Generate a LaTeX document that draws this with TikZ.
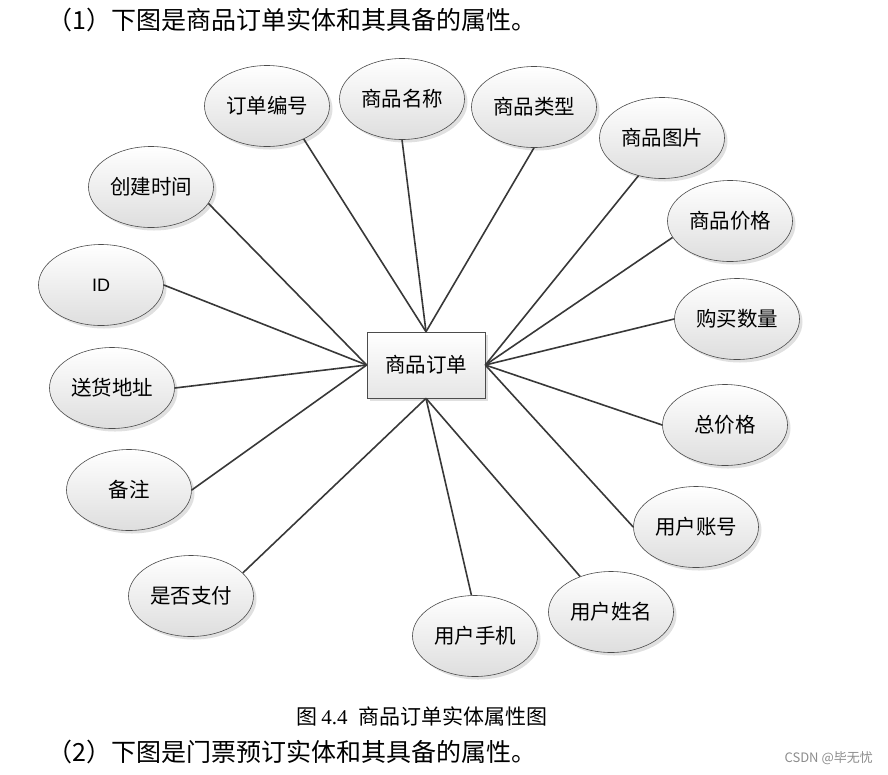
\documentclass[tikz,border=0pt]{standalone}
\usepackage{fontspec}
\setmainfont{Liberation Serif}
\newfontfamily\cjk{Noto Sans CJK SC}
\newfontfamily\arialf{Liberation Sans}
\usetikzlibrary{shapes.geometric,shadows}
\begin{document}
\begin{tikzpicture}[x=1pt,y=-1pt,
  attr/.style={ellipse,draw=black!70,line width=0.6pt,top color=white,bottom color=black!13,
    minimum width=125pt,minimum height=81pt,inner sep=0pt,font=\cjk\fontsize{20.5}{24}\selectfont,
    drop shadow={shadow xshift=3pt,shadow yshift=-3pt,opacity=0.3,fill=black!40}},
  ent/.style={rectangle,draw=black!70,line width=0.6pt,top color=white,bottom color=black!10,
    minimum width=118pt,minimum height=66pt,inner sep=0pt,font=\cjk\fontsize{20.5}{24}\selectfont,
    drop shadow={shadow xshift=3pt,shadow yshift=-3pt,opacity=0.3,fill=black!40}},
  link/.style={draw=black!78,line width=1.6pt},
  para/.style={anchor=west,inner sep=0pt,font=\cjk\fontsize{25}{28}\selectfont},
]
\useasboundingbox (0,0) rectangle (888,774);

\node[para] (title) at (47,20) {（1）下图是商品订单实体和其具备的属性。};

\node[ent] (o) at (426,365) {商品订单};

\node[attr] (a1) at (267,106) {订单编号};
\node[attr] (a2) at (402,99) {商品名称};
\node[attr] (a3) at (534,107) {商品类型};
\node[attr] (a4) at (662,138) {商品图片};
\node[attr] (a5) at (730,221) {商品价格};
\node[attr] (a6) at (737,319) {购买数量};
\node[attr] (a7) at (725,425) {总价格};
\node[attr] (a8) at (696,527) {用户账号};
\node[attr] (a9) at (611,612) {用户姓名};
\node[attr] (a10) at (475,636) {用户手机};
\node[attr] (a11) at (191,596) {是否支付};
\node[attr] (a12) at (129,490) {备注};
\node[attr] (a13) at (112,388) {送货地址};
\node[attr,font=\arialf\fontsize{18}{22}\selectfont] (a14) at (101,285) {ID};
\node[attr] (a15) at (151,187) {创建时间};

\draw[link] (a1.-42) -- (o.north);
\draw[link] (a2.south) -- (o.north);
\draw[link] (a3.south) -- (o.north);
\draw[link] (a4.-122) -- (o.east);
\draw[link] (a5.-164) -- (o.east);
\draw[link] (a6.west) -- (o.east);
\draw[link] (a7.west) -- (o.east);
\draw[link] (a8.west) -- (o.east);
\draw[link] (a9.131) -- (o.south);
\draw[link] (a10.95) -- (o.south);
\draw[link] (a11.24) -- (o.south);
\draw[link] (a12.east) -- (o.west);
\draw[link] (a13.east) -- (o.west);
\draw[link] (a14.east) -- (o.west);
\draw[link] (a15.-16) -- (o.west);

\node[inner sep=0pt,font=\fontsize{21}{24}\selectfont] (cap) at (422,716) {{\cjk 图}\,4.4\ \ {\cjk 商品订单实体属性图}};
\node[para] (next) at (47,752) {（2）下图是门票预订实体和其具备的属性。};
\node[anchor=east,inner sep=0pt,text=black!45,font=\cjk\fontsize{13}{15}\selectfont] (wm) at (873,758) {CSDN @毕无忧};
\end{tikzpicture}
\end{document}
